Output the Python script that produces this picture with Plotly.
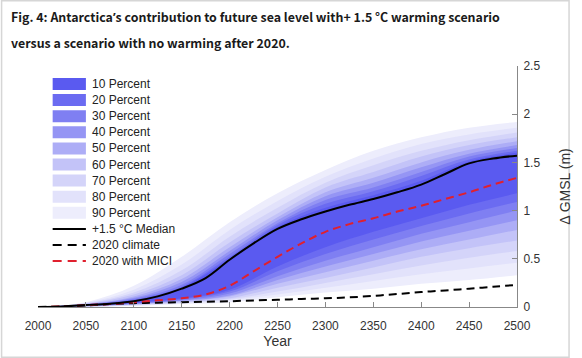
import plotly.graph_objects as go

# ---------------- data ----------------
BAND_YEARS = [2000, 2050, 2100, 2150, 2200, 2250, 2300, 2350, 2400, 2450, 2500]
BAND_LABELS = ["10 Percent", "20 Percent", "30 Percent", "40 Percent", "50 Percent",
               "60 Percent", "70 Percent", "80 Percent", "90 Percent"]
BAND_COLORS = ["#5a5af0", "#6b6bf1", "#7f7ff2", "#9595f4", "#adadf6",
               "#c3c3f8", "#d4d4f9", "#e2e2fb", "#ededfc"]

UPPER_10 = [0, 0.020, 0.065, 0.20, 0.50, 0.83, 1.03, 1.16, 1.31, 1.51, 1.60]
UPPER_20 = [0, 0.025, 0.075, 0.21, 0.52, 0.85, 1.07, 1.20, 1.36, 1.53, 1.62]
UPPER_30 = [0, 0.025, 0.085, 0.23, 0.55, 0.87, 1.11, 1.24, 1.40, 1.56, 1.65]
UPPER_40 = [0, 0.030, 0.095, 0.26, 0.58, 0.90, 1.15, 1.29, 1.45, 1.59, 1.68]
UPPER_50 = [0, 0.030, 0.110, 0.29, 0.62, 0.93, 1.19, 1.34, 1.50, 1.63, 1.72]
UPPER_60 = [0, 0.035, 0.130, 0.33, 0.67, 0.97, 1.24, 1.40, 1.56, 1.68, 1.76]
UPPER_70 = [0, 0.040, 0.150, 0.38, 0.73, 1.03, 1.29, 1.47, 1.62, 1.73, 1.81]
UPPER_80 = [0, 0.045, 0.180, 0.44, 0.80, 1.10, 1.35, 1.54, 1.69, 1.79, 1.86]
UPPER_90 = [0, 0.050, 0.220, 0.52, 0.88, 1.18, 1.42, 1.62, 1.76, 1.86, 1.92]

LOWER_10 = [0, 0.015, 0.045, 0.090, 0.18, 0.42, 0.62, 0.78, 0.92, 1.06, 1.18]
LOWER_20 = [0, 0.012, 0.040, 0.080, 0.16, 0.37, 0.55, 0.70, 0.84, 0.97, 1.09]
LOWER_30 = [0, 0.010, 0.035, 0.070, 0.14, 0.32, 0.48, 0.62, 0.76, 0.88, 1.00]
LOWER_40 = [0, 0.010, 0.032, 0.065, 0.12, 0.28, 0.42, 0.55, 0.68, 0.79, 0.90]
LOWER_50 = [0, 0.008, 0.028, 0.060, 0.11, 0.24, 0.36, 0.48, 0.60, 0.70, 0.80]
LOWER_60 = [0, 0.006, 0.024, 0.050, 0.09, 0.20, 0.30, 0.41, 0.52, 0.61, 0.69]
LOWER_70 = [0, 0.004, 0.020, 0.045, 0.08, 0.16, 0.25, 0.34, 0.43, 0.51, 0.58]
LOWER_80 = [0, 0.002, 0.015, 0.040, 0.07, 0.13, 0.20, 0.27, 0.34, 0.40, 0.46]
LOWER_90 = [0, 0.000, 0.010, 0.030, 0.05, 0.10, 0.15, 0.19, 0.24, 0.28, 0.33]

UPPERS = [UPPER_10, UPPER_20, UPPER_30, UPPER_40, UPPER_50, UPPER_60, UPPER_70, UPPER_80, UPPER_90]
LOWERS = [LOWER_10, LOWER_20, LOWER_30, LOWER_40, LOWER_50, LOWER_60, LOWER_70, LOWER_80, LOWER_90]

LINE_YEARS = [2000, 2025, 2050, 2075, 2100, 2125, 2150, 2175, 2200, 2225, 2250,
              2275, 2300, 2325, 2350, 2375, 2400, 2425, 2450, 2475, 2500]
MEDIAN_15 = [0, 0.005, 0.02, 0.035, 0.06, 0.11, 0.19, 0.30, 0.49, 0.66, 0.81,
             0.91, 0.99, 1.06, 1.12, 1.19, 1.27, 1.38, 1.49, 1.54, 1.57]
CLIMATE_2020 = [0, 0.005, 0.015, 0.03, 0.04, 0.045, 0.05, 0.055, 0.06, 0.068, 0.075,
                0.083, 0.09, 0.10, 0.115, 0.135, 0.155, 0.172, 0.19, 0.21, 0.23]
MICI_2020 = [0, 0.005, 0.02, 0.03, 0.05, 0.07, 0.09, 0.13, 0.22, 0.37, 0.52,
             0.66, 0.78, 0.86, 0.92, 0.99, 1.05, 1.12, 1.19, 1.27, 1.34]

LINE_LABELS = ["+1.5 °C Median", "2020 climate", "2020 with MICI"]
LINE_COLORS = ["#000000", "#000000", "#e0202e"]
LINE_DASHES = ["solid", "8px,5px", "8px,5px"]

X_TICKS = list(range(2000, 2501, 50))
Y_TICKS = [0, 0.5, 1, 1.5, 2, 2.5]
Y_TICK_TEXT = ["0", "0.5", "1", "1.5", "2", "2.5"]

TITLE_1 = ("Fig. 4: Antarctica<span style='font-family:Noto Sans'>’</span>s contribution "
           "to future sea level with+ 1.5 °C warming scenario")
TITLE_2 = "versus a scenario with no warming after 2020."

# ---------------- figure ----------------
W, H = 582, 358
ML, MR, MT, MB = 38, 54, 66, 51
PW, PH = W - ML - MR, H - MT - MB

def px_x(px):
    return (px - ML) / PW

def px_y(py):
    return (H - MB - py) / PH

fig = go.Figure()

for i in range(len(BAND_LABELS) - 1, -1, -1):
    fig.add_trace(go.Scatter(x=BAND_YEARS, y=LOWERS[i], mode="lines",
                             line=dict(width=0, shape="spline", color=BAND_COLORS[i]),
                             showlegend=False, hoverinfo="skip"))
    fig.add_trace(go.Scatter(x=BAND_YEARS, y=UPPERS[i], mode="lines", fill="tonexty",
                             fillcolor=BAND_COLORS[i],
                             line=dict(width=0, shape="spline", color=BAND_COLORS[i]),
                             name=BAND_LABELS[i], showlegend=False, hoverinfo="skip"))

for series, j in [(CLIMATE_2020, 1), (MICI_2020, 2), (MEDIAN_15, 0)]:
    fig.add_trace(go.Scatter(x=LINE_YEARS, y=series, mode="lines", name=LINE_LABELS[j],
                             line=dict(color=LINE_COLORS[j], width=2, dash=LINE_DASHES[j],
                                       shape="spline"),
                             showlegend=False))

# manual legend
shapes = []
annotations = []
row0, step = 84.0, 16.1
font_leg = dict(family="Liberation Sans, Arial, sans-serif", size=12, color="#222")
for i, lab in enumerate(BAND_LABELS):
    cy = row0 + step * i
    shapes.append(dict(type="rect", xref="paper", yref="paper",
                       x0=px_x(53), x1=px_x(87), y0=px_y(cy + 6), y1=px_y(cy - 6),
                       fillcolor=BAND_COLORS[i], line=dict(width=0), layer="above"))
    annotations.append(dict(xref="paper", yref="paper", x=px_x(91), y=px_y(cy),
                            text=lab, showarrow=False, xanchor="left", yanchor="middle",
                            font=font_leg))
for j, lab in enumerate(LINE_LABELS):
    cy = row0 + step * (len(BAND_LABELS) + j)
    shapes.append(dict(type="line", xref="paper", yref="paper",
                       x0=px_x(53), x1=px_x(87), y0=px_y(cy), y1=px_y(cy),
                       line=dict(color=LINE_COLORS[j], width=2,
                                 dash="solid" if j == 0 else "9px,6px"),
                       layer="above"))
    annotations.append(dict(xref="paper", yref="paper", x=px_x(91), y=px_y(cy),
                            text=lab, showarrow=False, xanchor="left", yanchor="middle",
                            font=font_leg))

# title
title_font = dict(family="Noto Sans CJK SC, Noto Sans, sans-serif", size=12.4, color="#1a1a1a")
annotations.append(dict(xref="paper", yref="paper", x=px_x(8), y=px_y(17),
                        text="<b>" + TITLE_1 + "</b>", showarrow=False,
                        xanchor="left", yanchor="middle", font=title_font))
annotations.append(dict(xref="paper", yref="paper", x=px_x(8), y=px_y(43),
                        text="<b>" + TITLE_2 + "</b>", showarrow=False,
                        xanchor="left", yanchor="middle", font=title_font))

# outer border
shapes.append(dict(type="rect", xref="paper", yref="paper",
                   x0=px_x(0.75), x1=px_x(W - 0.75), y0=px_y(H - 0.75), y1=px_y(0.75),
                   line=dict(color="#d6d6d6", width=1.5), fillcolor="rgba(0,0,0,0)"))

axis_font = dict(family="Liberation Sans, Arial, sans-serif", size=12, color="#333")
fig.update_layout(
    width=W, height=H,
    margin=dict(l=ML, r=MR, t=MT, b=MB, pad=0),
    paper_bgcolor="white", plot_bgcolor="white",
    showlegend=False,
    shapes=shapes, annotations=annotations,
    xaxis=dict(range=[2000, 2500], tickvals=X_TICKS, ticks="inside", ticklen=5,
               tickcolor="#888", showline=True, linecolor="#888", linewidth=1,
               showgrid=False, zeroline=False, tickfont=axis_font, ticklabelstandoff=8,
               title=dict(text="Year", font=dict(family="Liberation Sans, Arial, sans-serif",
                                                 size=14, color="#333"), standoff=3)),
    yaxis=dict(range=[0, 2.5], side="right", tickvals=Y_TICKS, ticktext=Y_TICK_TEXT,
               ticks="inside", ticklen=5, tickcolor="#888", showline=True,
               linecolor="#888", linewidth=1, showgrid=False, zeroline=False,
               tickfont=axis_font, ticklabelstandoff=3,
               title=dict(text="Δ GMSL (m)", font=dict(family="Liberation Sans, Arial, sans-serif",
                                                        size=14, color="#333"), standoff=20)),
)

fig.write_html("out.html", config={"displayModeBar": False},
               post_script="document.body.style.margin='0';document.body.style.overflow='hidden';")
